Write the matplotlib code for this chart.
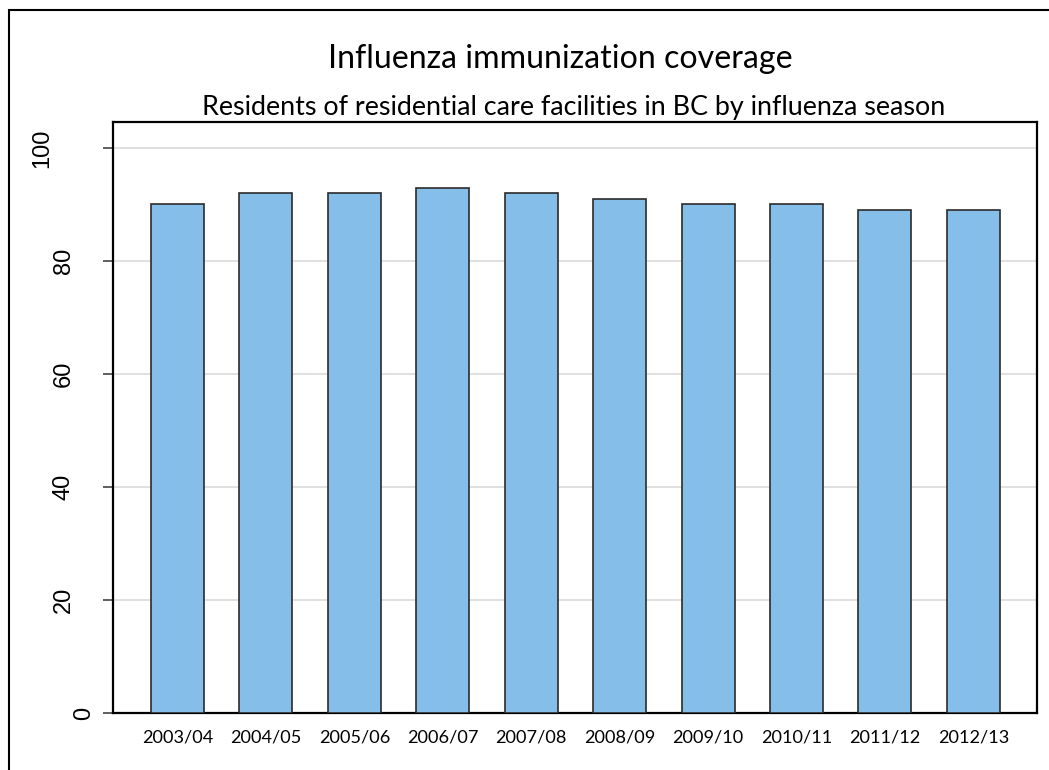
import matplotlib
matplotlib.use("Agg")
import matplotlib.pyplot as plt
from matplotlib.patches import Rectangle

seasons = ["2003/04", "2004/05", "2005/06", "2006/07", "2007/08",
           "2008/09", "2009/10", "2010/11", "2011/12", "2012/13"]
coverage = [90, 92, 92, 93, 92, 91, 90, 90, 89, 89]
yticks = [0, 20, 40, 60, 80, 100]
title = "Influenza immunization coverage"
subtitle = "Residents of residential care facilities in BC by influenza season"

W, H = 1049, 770
AX_L, AX_R, AX_T, AX_B = 113, 1037, 122, 713
fig = plt.figure(figsize=(W / 100, H / 100), dpi=100)
ax = fig.add_axes([AX_L / W, 1 - AX_B / H, (AX_R - AX_L) / W, (AX_B - AX_T) / H])
renderer = fig.canvas.get_renderer()


def fit_width(txt, target_px):
    """Scale a text's font size so that its rendered width is target_px."""
    w = txt.get_window_extent(renderer=renderer).width
    txt.set_fontsize(txt.get_fontsize() * target_px / w)


x = list(range(len(seasons)))
ax.bar(x, coverage, width=0.6, color="#85BEE8", edgecolor="#2b2b2b",
       linewidth=1.2, zorder=3)
ax.set_xlim(-0.73, 9.72)
ax.set_ylim(0, 104.6)

# y ticks: outward ticks, rotated labels placed individually
ax.set_yticks(yticks)
ax.set_yticklabels([])
ax.tick_params(axis="y", length=7.2, width=1.2, color="#444444")
label_px = {0: 90, 100: 48}
for v in yticks:
    px = label_px.get(v, 70)
    ax.text((px - AX_L) / (AX_R - AX_L), v, str(v),
            transform=ax.get_yaxis_transform(), rotation=90,
            rotation_mode="anchor", ha="center", va="baseline",
            fontsize=17, family="Liberation Sans", color="black",
            clip_on=False)

ax.set_xticks(x)
xl = ax.set_xticklabels(seasons, fontsize=13, family="Lato")
fit_width(xl[0], 71)
ax.tick_params(axis="x", length=0, pad=12, labelsize=xl[0].get_fontsize())

ax.yaxis.grid(True, color="#E0E0E0", linewidth=1.4, zorder=0)
ax.set_axisbelow(True)
for s in ax.spines.values():
    s.set_color("black")
    s.set_linewidth(1.6)

t1 = fig.text(560 / W, 1 - 68 / H, title,
              ha="center", va="baseline", fontsize=23, family="Lato")
fit_width(t1, 465)
t2 = fig.text(574 / W, 1 - 115 / H, subtitle,
              ha="center", va="baseline", fontsize=18, family="Lato")
fit_width(t2, 742)

fig.patches.append(Rectangle((9 / W, -0.05), 1.2, 1 - 10 / H + 0.05,
                             transform=fig.transFigure, fill=False,
                             edgecolor="black", linewidth=1.5))

fig.savefig("out.png", dpi=100)
